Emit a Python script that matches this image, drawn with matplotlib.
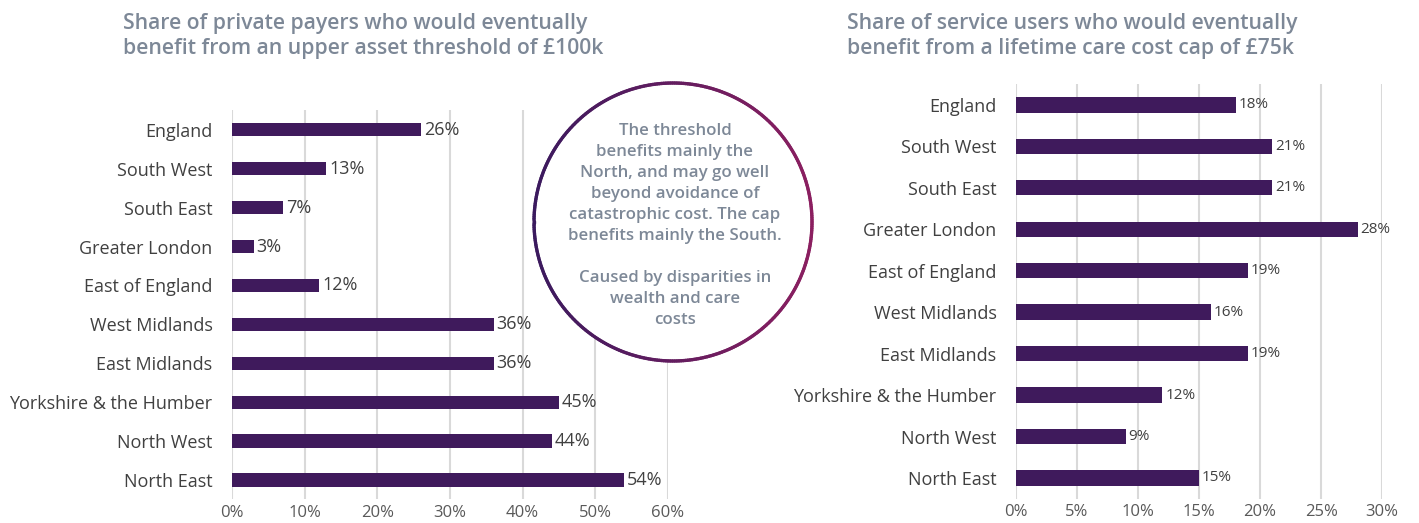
import numpy as np
import matplotlib.pyplot as plt
from matplotlib.collections import LineCollection
from matplotlib.colors import LinearSegmentedColormap

plt.rcParams['font.family'] = ['Open Sans', 'DejaVu Sans']

# Data
regions = ['England', 'South West', 'South East', 'Greater London', 'East of England',
           'West Midlands', 'East Midlands', 'Yorkshire & the Humber', 'North West', 'North East']
threshold_share = [26, 13, 7, 3, 12, 36, 36, 45, 44, 54]   # upper asset threshold £100k
cap_share = [18, 21, 21, 28, 19, 16, 19, 12, 9, 15]         # lifetime cost cap £75k

left_ticks = [0, 10, 20, 30, 40, 50, 60]
right_ticks = [0, 5, 10, 15, 20, 25, 30]

title_left = 'Share of private payers who would eventually\nbenefit from an upper asset threshold of £100k'
title_right = 'Share of service users who would eventually\nbenefit from a lifetime care cost cap of £75k'
note = ('The threshold\nbenefits mainly the\nNorth, and may go well\nbeyond avoidance of\n'
        'catastrophic cost. The cap\nbenefits mainly the South.\n\n'
        'Caused by disparities in\nwealth and care\ncosts')

BAR = '#3f1a5c'
TITLE = '#7d8897'
LABEL = '#404040'
GRID = '#d9d9d9'

fig = plt.figure(figsize=(14.19, 5.23), dpi=100)


def draw(ax, values, ticks, bar_h, val_size):
    y = np.arange(len(regions))
    bars = ax.barh(y, values, height=bar_h, color=BAR, zorder=3)
    ax.bar_label(bars, labels=[f'{v}%' for v in values], padding=2,
                 fontsize=val_size, color=LABEL)
    ax.set_yticks(y)
    ax.set_yticklabels(regions, fontsize=13, color=LABEL)
    ax.set_ylim(len(regions) - 0.5, -0.5)
    ax.set_xticks(ticks)
    ax.set_xticklabels([f'{t}%' for t in ticks], fontsize=12, color='#595959')
    ax.set_xlim(ticks[0], ticks[-1])
    ax.grid(axis='x', color=GRID, linewidth=1.5, zorder=0)
    ax.tick_params(length=0)
    ax.tick_params(axis='x', pad=4)
    ax.tick_params(axis='y', pad=14)
    for s in ax.spines.values():
        s.set_visible(False)
    ax.set_axisbelow(True)


ax1 = fig.add_axes([0.1635, 0.045, 0.3072, 0.744])
draw(ax1, threshold_share, left_ticks, 0.34, 13)

ax2 = fig.add_axes([0.716, 0.0465, 0.258, 0.7925])
draw(ax2, cap_share, right_ticks, 0.37, 11)

fig.text(123 / 1419, 1 - 13 / 523, title_left, ha='left', va='top', fontsize=15.2,
         fontweight='semibold', color=TITLE, linespacing=1.22)
fig.text(847 / 1419, 1 - 13 / 523, title_right, ha='left', va='top', fontsize=15.2,
         fontweight='semibold', color=TITLE, linespacing=1.22)

# Circle callout with gradient outline, drawn in pixel coordinates
ov = fig.add_axes([0, 0, 1, 1], zorder=5)
ov.set_xlim(0, 1419)
ov.set_ylim(523, 0)
ov.axis('off')
ov.patch.set_alpha(0)

cx, cy, r = 673, 222, 139
t = np.linspace(0, 2 * np.pi, 400)
xs = cx + r * np.cos(t)
ys = cy + r * np.sin(t)
ov.fill(xs, ys, color='white', zorder=1)
pts = np.column_stack([xs, ys]).reshape(-1, 1, 2)
segs = np.concatenate([pts[:-1], pts[1:]], axis=1)
cmap = LinearSegmentedColormap.from_list('ring', ['#3b1a5e', '#8b1f60'])
lc = LineCollection(segs, cmap=cmap, linewidth=2.4, capstyle='round', zorder=2)
lc.set_array((xs[:-1] - (cx - r)) / (2 * r))
ov.add_collection(lc)

ov.text(cx + 2, 123, note, ha='center', va='top', fontsize=12.2, fontweight='semibold',
        color=TITLE, linespacing=1.42, zorder=3)

fig.savefig('out.png', dpi=100)
